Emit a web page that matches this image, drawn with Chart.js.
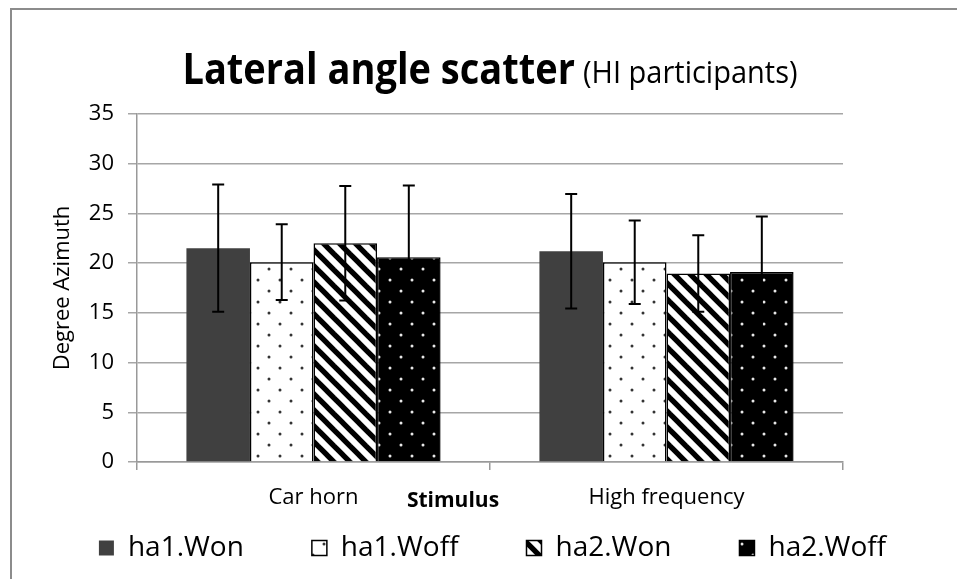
<!DOCTYPE html>
<html>
<head>
<meta charset="utf-8">
<script src="https://cdn.jsdelivr.net/npm/chart.js@4.4.0/dist/chart.umd.min.js"></script>
<style>
  html, body { margin: 0; padding: 0; background: #fff; }
  #wrap { position: relative; width: 957px; height: 579px; overflow: hidden; }
  #frame { position: absolute; left: 10px; top: 8px; width: 1000px; height: 1000px;
           border-left: 2px solid #8c8c8c; border-top: 2px solid #8c8c8c; box-sizing: border-box; }
  #title { position: absolute; left: 0; top: 48px; width: 980px; text-align: center;
           font-family: "Open Sans", sans-serif; line-height: 40px; color: #000; white-space: nowrap; }
  #title .main { display: inline-block; font-weight: bold; font-size: 38px; transform: scaleY(1.14); transform-origin: 50% 75%; }
  #title .sub { display: inline-block; font-size: 29px; margin-left: 4px; transform: scaleY(1.08); transform-origin: 50% 75%; }
  #xtitle { position: absolute; left: 353px; width: 200px; top: 486px; text-align: center;
            font-family: "Open Sans", sans-serif; font-weight: bold; font-size: 21px; line-height: 26px; color: #000; }
  canvas { position: absolute; left: 0; top: 0; }
</style>
</head>
<body>
<div id="wrap">
  <div id="frame"></div>
  <canvas id="c" width="957" height="579"></canvas>
  <div id="title"><span class="main">Lateral angle scatter</span> <span class="sub">(HI participants)</span></div>
  <div id="xtitle">Stimulus</div>
</div>
<script>
// ---- data ----
const categories = ['Car horn', 'High frequency'];
const seriesNames = ['ha1.Won', 'ha1.Woff', 'ha2.Won', 'ha2.Woff'];
const ha1Won  = [21.5, 21.2];
const ha1Woff = [20.1, 20.1];
const ha2Won  = [22.0, 18.95];
const ha2Woff = [20.6, 19.1];
const ha1WonErr  = [6.4, 5.75];
const ha1WoffErr = [3.8, 4.2];
const ha2WonErr  = [5.75, 3.85];
const ha2WoffErr = [7.2, 5.6];
const yTicks = [0, 5, 10, 15, 20, 25, 30, 35];

// ---- patterns ----
function dotPattern(bg, dot) {
  const c = document.createElement('canvas');
  c.width = 22; c.height = 22;
  const g = c.getContext('2d');
  g.fillStyle = bg; g.fillRect(0, 0, 22, 22);
  g.fillStyle = dot;
  [[5, 5], [16, 16]].forEach(([x, y]) => { g.beginPath(); g.arc(x, y, 1.5, 0, Math.PI * 2); g.fill(); });
  return g.createPattern(c, 'repeat');
}
function stripePattern() {
  const c = document.createElement('canvas');
  c.width = 16; c.height = 16;
  const g = c.getContext('2d');
  g.fillStyle = '#fff'; g.fillRect(0, 0, 16, 16);
  g.strokeStyle = '#000'; g.lineWidth = 5.4;
  [-16, 0, 16].forEach(o => { g.beginPath(); g.moveTo(o - 2, -2); g.lineTo(o + 18, 18); g.stroke(); });
  return g.createPattern(c, 'repeat');
}
const ctx0 = document.getElementById('c').getContext('2d');

const fontFam = '"Open Sans", sans-serif';

const errorBars = {
  id: 'errorBars',
  afterDatasetsDraw(chart) {
    const ctx = chart.ctx, ys = chart.scales.y;
    chart.data.datasets.forEach((ds, i) => {
      const meta = chart.getDatasetMeta(i);
      meta.data.forEach((bar, j) => {
        const v = ds.data[j], e = ds.errors[j];
        const x = bar.x, yt = ys.getPixelForValue(v + e), yb = ys.getPixelForValue(v - e);
        ctx.save();
        ctx.strokeStyle = '#000'; ctx.lineWidth = 2;
        ctx.beginPath();
        ctx.moveTo(x, yt); ctx.lineTo(x, yb);
        ctx.moveTo(x - 6, yt); ctx.lineTo(x + 6, yt);
        ctx.moveTo(x - 6, yb); ctx.lineTo(x + 6, yb);
        ctx.stroke();
        ctx.restore();
      });
    });
  }
};
// legend: keep the wide item spacing but place the row just under the axis labels
const legendShift = {
  id: 'legendShift',
  afterLayout(chart) {
    const lg = chart.legend;
    if (!lg) return;
    lg.left += 14; lg.right += 14;
    lg.top = 466; lg.bottom = chart.height;
  }
};

new Chart(ctx0, {
  type: 'bar',
  data: {
    labels: categories,
    datasets: [
      { label: seriesNames[0], data: ha1Won, errors: ha1WonErr, backgroundColor: '#404040', borderColor: '#404040', borderWidth: 0 },
      { label: seriesNames[1], data: ha1Woff, errors: ha1WoffErr, backgroundColor: dotPattern('#fff', '#333'), borderColor: '#000', borderWidth: 1.5 },
      { label: seriesNames[2], data: ha2Won, errors: ha2WonErr, backgroundColor: stripePattern(), borderColor: '#000', borderWidth: 1.5 },
      { label: seriesNames[3], data: ha2Woff, errors: ha2WoffErr, backgroundColor: dotPattern('#000', '#e8e8e8'), borderColor: '#000', borderWidth: 1.5 }
    ]
  },
  options: {
    responsive: false,
    animation: false,
    events: [],
    datasets: { bar: { categoryPercentage: 0.72, barPercentage: 1.0 } },
    layout: { padding: { left: 0, right: 0, top: 114, bottom: 7 } },
    scales: {
      x: {
        grid: { display: true, drawOnChartArea: false, drawTicks: true, tickLength: 8, color: '#999', offset: true, lineWidth: 1.5 },
        border: { display: true, color: '#999', width: 1.5 },
        ticks: { color: '#000', font: { family: fontFam, size: 22 }, padding: 15, maxRotation: 0, autoSkip: false },
        afterFit(s) { s.height = 50; }
      },
      y: {
        min: 0, max: 35,
        afterBuildTicks(s) { s.ticks = yTicks.map(v => ({ value: v })); },
        grid: { color: '#a6a6a6', lineWidth: 1.5, drawTicks: true, tickLength: 9 },
        border: { display: true, color: '#999', width: 1.5 },
        ticks: { color: '#000', font: { family: fontFam, size: 22 }, padding: 14 },
        title: { display: true, text: 'Degree Azimuth', color: '#000', font: { family: fontFam, size: 22 }, padding: { top: 50, bottom: 0 } },
        afterFit(s) { s.width = 137; }
      },
      y2: {
        position: 'right', display: true, min: 0, max: 35,
        grid: { display: false }, ticks: { display: false }, border: { display: false },
        afterFit(s) { s.width = 114; }
      }
    },
    plugins: {
      legend: {
        position: 'bottom',
        maxHeight: 60,
        labels: { boxWidth: 15, boxHeight: 15, padding: 68, color: '#000', font: { family: fontFam, size: 28 } }
      },
      title: { display: false },
      tooltip: { enabled: false }
    }
  },
  plugins: [errorBars, legendShift]
});
</script>
</body>
</html>
